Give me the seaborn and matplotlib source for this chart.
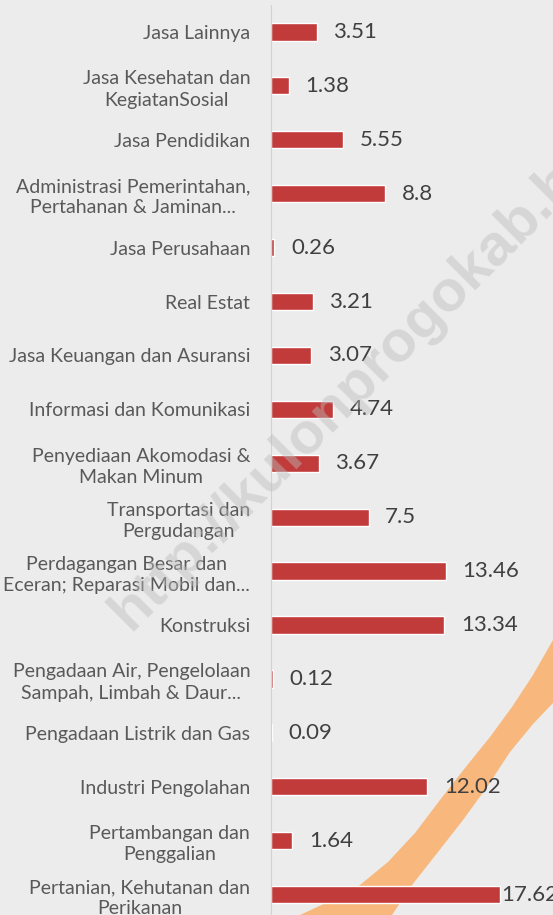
import numpy as np
import pandas as pd
import matplotlib
matplotlib.use("Agg")
import matplotlib.pyplot as plt
from matplotlib.patches import Polygon
import seaborn as sns

# ---------------------------------------------------------------------------
# data (top to bottom as in the picture)
# ---------------------------------------------------------------------------
categories = [
    "Jasa Lainnya",
    "Jasa Kesehatan dan\nKegiatanSosial",
    "Jasa Pendidikan",
    "Administrasi Pemerintahan,\nPertahanan & Jaminan...",
    "Jasa Perusahaan",
    "Real Estat",
    "Jasa Keuangan dan Asuransi",
    "Informasi dan Komunikasi",
    "Penyediaan Akomodasi &\nMakan Minum",
    "Transportasi dan\nPergudangan",
    "Perdagangan Besar dan\nEceran; Reparasi Mobil dan...",
    "Konstruksi",
    "Pengadaan Air, Pengelolaan\nSampah, Limbah & Daur...",
    "Pengadaan Listrik dan Gas",
    "Industri Pengolahan",
    "Pertambangan dan\nPenggalian",
    "Pertanian, Kehutanan dan\nPerikanan",
]
values = [3.51, 1.38, 5.55, 8.8, 0.26, 3.21, 3.07, 4.74, 3.67, 7.5,
          13.46, 13.34, 0.12, 0.09, 12.02, 1.64, 17.62]
value_labels = ["3.51", "1.38", "5.55", "8.8", "0.26", "3.21", "3.07", "4.74",
                "3.67", "7.5", "13.46", "13.34", "0.12", "0.09", "12.02",
                "1.64", "17.62"]

df = pd.DataFrame({"sektor": categories, "nilai": values})

BG = "#ececec"
BAR = "#c23b3b"
W, H = 553, 915

sns.set_theme(style="white")
plt.rcParams["font.family"] = ["Lato", "DejaVu Sans"]

fig = plt.figure(figsize=(W / 100, H / 100), dpi=100, facecolor=BG)

# background swoosh (decoration, pixel coords of the picture)
upper = [(300, 915), (330, 901), (360, 885), (388, 862), (415, 833), (440, 800),
         (465, 768), (490, 737), (512, 707), (533, 675), (553, 640)]
lower = [(553, 703), (533, 724), (510, 752), (487, 787), (463, 820),
         (438, 852), (412, 885), (392, 915)]
pts = [(x / W, 1 - y / H) for x, y in upper + lower]
fig.patches.append(Polygon(pts, closed=True, transform=fig.transFigure,
                           facecolor="#f8b77c", edgecolor="none", zorder=0))

ax = fig.add_axes([271 / W, 0, (W - 271) / W, 910 / H])
ax.set_facecolor("none")
ax.set_zorder(2)

sns.barplot(data=df, x="nilai", y="sektor", orient="h", color=BAR,
            width=0.32, saturation=1, ax=ax, zorder=2)

ax.set_xlim(0, (W - 271) / 13.0)
ax.set_ylim(16.38, -0.5)
ax.set_xlabel("")
ax.set_ylabel("")
ax.set_xticks([])
for s in ["top", "right", "bottom"]:
    ax.spines[s].set_visible(False)
ax.spines["left"].set_color("#d2d2d2")
ax.spines["left"].set_linewidth(0.8)
ax.spines["left"].set_linestyle((0, (2, 1)))

ax.tick_params(axis="y", length=0, pad=15)
for lab in ax.get_yticklabels():
    lab.set_fontsize(14)
    lab.set_color("#595959")
    lab.set_multialignment("center")
    lab.set_linespacing(1.3)

vmax = max(values)
for i, (v, t) in enumerate(zip(values, value_labels)):
    off = 0.5 if v == vmax else 12
    ax.annotate(t, (v, i), xytext=(off, 0), textcoords="offset points",
                ha="left", va="center", fontsize=16, color="#404040", zorder=3)

# watermark
wm = fig.text(130 / W, 1 - 632 / H, "http://kulonprogokab.bps.go.id",
              rotation=45, rotation_mode="anchor", ha="left", va="baseline",
              fontsize=42, fontweight="bold", family="Liberation Sans",
              color="#bcbcbc", alpha=0.45)
wm.set_zorder(10)

fig.savefig("out.png", dpi=100, facecolor=BG)
